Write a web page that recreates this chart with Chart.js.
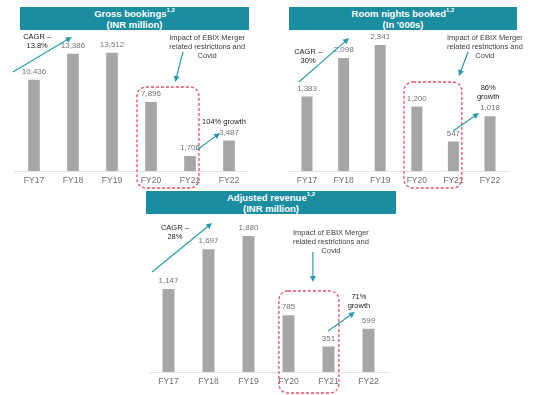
<!DOCTYPE html>
<html>
<head>
<meta charset="utf-8">
<script src="https://cdn.jsdelivr.net/npm/chart.js@4.4.0/dist/chart.umd.min.js"></script>
<style>
  body { margin: 0; background: #fff; width: 538px; height: 395px; overflow: hidden; position: relative; font-family: "Liberation Sans", Arial, sans-serif; }
  canvas { position: absolute; left: 0; top: 0; }
  .hdr { position: absolute; background: #1a8da0; color: #fff; font-weight: bold; font-size: 9.5px; line-height: 11px; text-align: center; padding-top: 1px; box-sizing: border-box; z-index: 2; }
  .hdr sup { font-size: 6px; line-height: 0; position: relative; top: -1px; }
</style>
</head>
<body>
<div class="hdr" style="left:20px;top:7px;width:229px;height:23px">Gross bookings<sup>1,2</sup><br>(INR million)</div>
<div class="hdr" style="left:289px;top:7px;width:228px;height:23px">Room nights booked<sup>1,2</sup><br>(In '000s)</div>
<div class="hdr" style="left:146px;top:191px;width:250px;height:23px">Adjusted revenue<sup>1,2</sup><br>(INR million)</div>
<canvas id="c1" width="538" height="395"></canvas>
<canvas id="c2" width="538" height="395"></canvas>
<canvas id="c3" width="538" height="395"></canvas>
<script>
const years = ["FY17", "FY18", "FY19", "FY20", "FY21", "FY22"];
const grossBookings = [10436, 13386, 13512, 7896, 1706, 3487];
const roomNights = [1383, 2098, 2341, 1200, 547, 1018];
const adjRevenue = [1147, 1697, 1880, 785, 351, 599];

const impactText = ["Impact of EBIX Merger", "related restrictions and", "Covid"];

// annotations in data units: x = category index, y = axis value
const notes1 = {
    texts: [
        { at: [0.08, 15314], lines: ["CAGR \u2013", "13.8%"], color: "#222" },
        { at: [4.44, 15200], lines: impactText, color: "#404040" },
        { at: [4.87, 5600], lines: ["104% growth"], color: "#222" }
    ],
    arrows: [
        [[-0.54, 11315], [0.97, 15315]],
        [[3.82, 13600], [3.62, 10172]],
        [[4.18, 2400], [4.77, 4343]]
    ],
    box: [[2.64, 9600], [4.23, -1943]]
};
const notes2 = {
    texts: [
        { at: [0.03, 2210], lines: ["CAGR \u2013", "30%"], color: "#222" },
        { at: [4.86, 2470], lines: impactText, color: "#404040" },
        { at: [4.95, 1541], lines: ["86%", "growth"], color: "#222" }
    ],
    arrows: [
        [[-0.22, 1653], [1.15, 2470]],
        [[4.40, 2210], [4.15, 1764]],
        [[3.99, 743], [4.70, 1077]]
    ],
    box: [[2.65, 1653], [4.23, -316]]
};
const notes3 = {
    texts: [
        { at: [0.16, 1990], lines: ["CAGR \u2013", "28%"], color: "#222" },
        { at: [4.06, 1920], lines: impactText, color: "#404040" },
        { at: [4.76, 1036], lines: ["71%", "growth"], color: "#222" }
    ],
    arrows: [
        [[-0.41, 1382], [1.09, 2059]],
        [[3.61, 1658], [3.61, 1243]],
        [[3.99, 566], [4.66, 829]]
    ],
    box: [[2.76, 1119], [4.26, -290]]
};

const FONT = '"Liberation Sans", Arial, sans-serif';

const decor = {
    id: "decor",
    afterDatasetsDraw(chart, args, opts) {
        const ctx = chart.ctx;
        const sx = chart.scales.x, sy = chart.scales.y;
        const p = (pt) => [sx.getPixelForValue(pt[0]), sy.getPixelForValue(pt[1])];
        ctx.save();

        // value labels above bars
        ctx.font = "8px " + FONT;
        ctx.fillStyle = "#737373";
        ctx.textAlign = "center";
        ctx.textBaseline = "middle";
        const vals = chart.data.datasets[0].data;
        chart.getDatasetMeta(0).data.forEach((bar, i) => {
            ctx.fillText(vals[i].toLocaleString("en-US"), bar.x, bar.y - 8);
        });

        // dashed box
        const n = opts.notes;
        const a = p(n.box[0]), b = p(n.box[1]);
        ctx.strokeStyle = "#e8506a";
        ctx.lineWidth = 1.3;
        ctx.setLineDash([3, 2]);
        ctx.beginPath();
        ctx.roundRect(a[0], a[1], b[0] - a[0], b[1] - a[1], 9);
        ctx.stroke();
        ctx.setLineDash([]);

        // arrows
        ctx.strokeStyle = "#2a9bae";
        ctx.fillStyle = "#2a9bae";
        ctx.lineWidth = 1.2;
        n.arrows.forEach(ar => {
            const s = p(ar[0]), e = p(ar[1]);
            const ang = Math.atan2(e[1] - s[1], e[0] - s[0]);
            ctx.beginPath();
            ctx.moveTo(s[0], s[1]);
            ctx.lineTo(e[0] - 4 * Math.cos(ang), e[1] - 4 * Math.sin(ang));
            ctx.stroke();
            ctx.beginPath();
            ctx.moveTo(e[0], e[1]);
            ctx.lineTo(e[0] - 6 * Math.cos(ang) + 3 * Math.sin(ang), e[1] - 6 * Math.sin(ang) - 3 * Math.cos(ang));
            ctx.lineTo(e[0] - 6 * Math.cos(ang) - 3 * Math.sin(ang), e[1] - 6 * Math.sin(ang) + 3 * Math.cos(ang));
            ctx.closePath();
            ctx.fill();
        });

        // texts
        ctx.font = "7.5px " + FONT;
        n.texts.forEach(t => {
            const q = p(t.at);
            ctx.fillStyle = t.color;
            t.lines.forEach((line, k) => ctx.fillText(line, q[0], q[1] + k * 8.8));
        });
        ctx.restore();
    }
};

function makeChart(id, values, yMax, pad, notes) {
    return new Chart(document.getElementById(id), {
        type: "bar",
        data: {
            labels: years,
            datasets: [{
                data: values,
                backgroundColor: "#a6a6a6",
                barPercentage: 0.3,
                categoryPercentage: 1
            }]
        },
        options: {
            responsive: false,
            animation: false,
            layout: { padding: pad },
            plugins: {
                legend: { display: false },
                tooltip: { enabled: false },
                decor: { notes: notes }
            },
            scales: {
                x: {
                    grid: { display: false, drawTicks: false },
                    border: { color: "#e3e3e3", width: 1 },
                    ticks: { color: "#6e6e6e", font: { size: 8.5, family: FONT }, padding: 5 },
                    afterFit: (axis) => { axis.height = 18; }
                },
                y: { display: false, min: 0, max: yMax }
            }
        },
        plugins: [decor]
    });
}

makeChart("c1", grossBookings, 16000, { left: 14.5, right: 289.5, top: 31, bottom: 206 }, notes1);
makeChart("c2", roomNights, 2600, { left: 288.7, right: 29.7, top: 31, bottom: 206 }, notes2);
makeChart("c3", adjRevenue, 2100, { left: 148.5, right: 149.5, top: 220, bottom: 5 }, notes3);
</script>
</body>
</html>
